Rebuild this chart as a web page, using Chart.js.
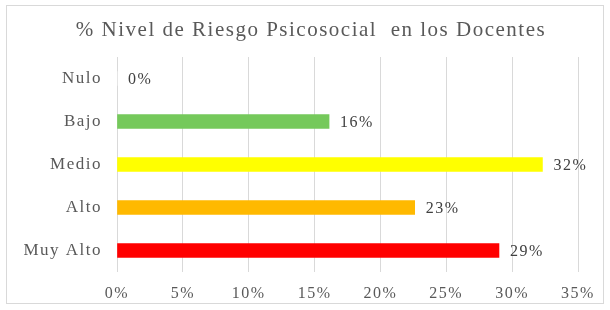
<!DOCTYPE html>
<html>
<head>
<meta charset="utf-8">
<script src="https://cdn.jsdelivr.net/npm/chart.js@4"></script>
<style>
  html, body { margin: 0; padding: 0; background: #fff; }
  #wrap { width: 610px; height: 310px; position: relative; }
</style>
</head>
<body>
<div id="wrap"><canvas id="riesgoChart" width="610" height="310"></canvas></div>
<script>
// data
const categorias = ['Nulo', 'Bajo', 'Medio', 'Alto', 'Muy Alto'];
const porcentajes = [0, 16.1, 32.3, 22.6, 29.0];
const etiquetas = ['0%', '16%', '32%', '23%', '29%'];
const colores = ['#ffffff', '#75c95b', '#ffff00', '#ffb900', '#ff0000'];
const ticksX = [0, 5, 10, 15, 20, 25, 30, 35];
const titulo = '% Nivel de Riesgo Psicosocial  en los Docentes';

const serif = '"Liberation Serif", "Times New Roman", serif';
const espaciado = '1.5px';

// the source text is wide and loose, so letter spacing everywhere
// (canvas resizing wipes the context state, so set it again before layout and draw)
const marcoYEtiquetas = {
    id: 'marcoYEtiquetas',
    beforeLayout(chart) {
        chart.ctx.letterSpacing = espaciado;
    },
    beforeDraw(chart) {
        const c = chart.ctx;
        c.letterSpacing = espaciado;
        c.save();
        c.strokeStyle = '#d9d9d9';
        c.lineWidth = 1;
        c.strokeRect(6.5, 5.5, 597, 298);
        // title
        c.font = '21px ' + serif;
        c.fillStyle = '#595959';
        c.textAlign = 'center';
        c.textBaseline = 'middle';
        c.fillText(titulo, 311, 30);
        c.restore();
    },
    afterDatasetsDraw(chart) {
        const c = chart.ctx;
        const meta = chart.getDatasetMeta(0);
        c.save();
        c.font = '16px ' + serif;
        c.fillStyle = '#404040';
        c.textAlign = 'left';
        c.textBaseline = 'middle';
        meta.data.forEach((bar, i) => {
            c.fillText(etiquetas[i], bar.x + 11, bar.y + 1);
        });
        c.restore();
    }
};

const ctx = document.getElementById('riesgoChart').getContext('2d');
new Chart(ctx, {
    type: 'bar',
    data: {
        labels: categorias,
        datasets: [{
            data: porcentajes,
            backgroundColor: colores,
            barThickness: 14,
            borderWidth: 0
        }]
    },
    options: {
        indexAxis: 'y',
        responsive: false,
        animation: false,
        layout: { padding: { top: 57, right: 32, bottom: 0, left: 0 } },
        plugins: {
            legend: { display: false },
            tooltip: { enabled: false },
            title: { display: false }
        },
        scales: {
            x: {
                min: 0,
                max: 35,
                afterBuildTicks: (scale) => {
                    scale.ticks = ticksX.map(v => ({ value: v }));
                },
                afterFit: (scale) => { scale.height = 38; },
                grid: { color: '#d9d9d9', drawTicks: false },
                border: { display: false },
                ticks: {
                    padding: 12,
                    color: '#595959',
                    font: { family: serif, size: 16 },
                    callback: v => v + '%'
                }
            },
            y: {
                afterFit: (scale) => { scale.width = 117; },
                grid: { display: false, drawTicks: false },
                border: { display: false },
                ticks: {
                    padding: 15,
                    color: '#595959',
                    font: { family: serif, size: 17 }
                }
            }
        }
    },
    plugins: [marcoYEtiquetas]
});
</script>
</body>
</html>
